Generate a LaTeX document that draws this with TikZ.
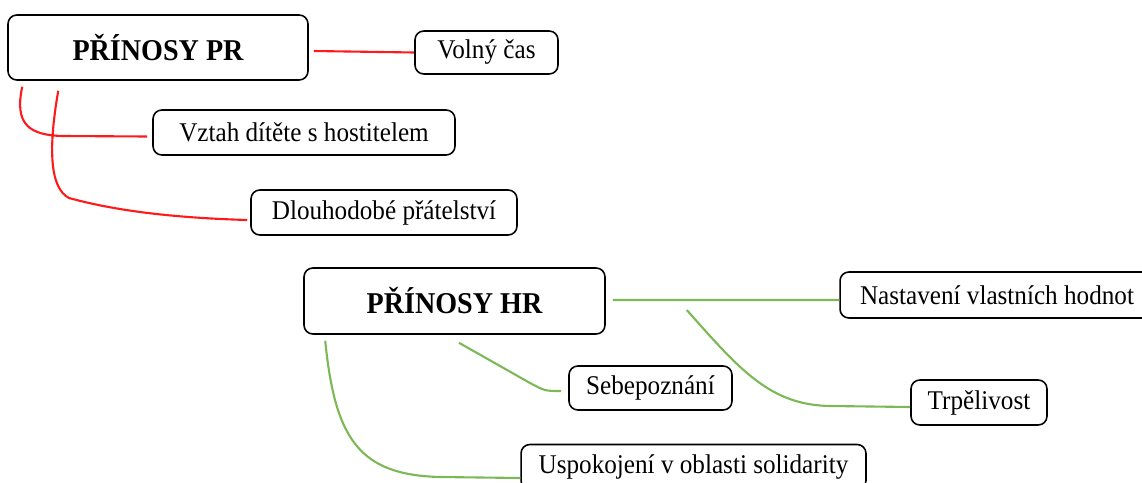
\documentclass[tikz,border=0pt]{standalone}
\usepackage{fontspec}
\setmainfont[FakeStretch = 0.93]{Liberation Serif}
\usetikzlibrary{calc}
\definecolor{prcolor}{RGB}{255,25,25}
\definecolor{hrcolor}{RGB}{125,184,86}
\tikzset{
	box/.style = {draw, line width = 0.9pt, rounded corners = 5pt, fill = white, minimum height = 0.9cm, inner sep = 0pt, font = \fontsize{15.4}{18}\selectfont},
	title/.style = {box, minimum height = 1.3cm, font = \fontsize{17.2}{20}\selectfont\bfseries},
	prline/.style = {draw = prcolor, line width = 1.2pt},
	hrline/.style = {draw = hrcolor, line width = 1.2pt}
}

\begin{document}
\begin{tikzpicture}[x = 0.02cm, y = -0.02cm]
	\useasboundingbox (0,0) rectangle (1142,483);
	\clip (0,0) rectangle (1142,483);
	\draw
	(158,47.5) node[title, minimum width = 6cm](PR){PŘÍNOSY PR}
	(486.5,52.5) node[box, minimum width = 2.86cm, minimum height = 0.86cm](volny){Volný čas}
	(304,132.5) node[box, minimum width = 6.04cm](vztah){Vztah dítěte s hostitelem}
	(384,212.5) node[box, minimum width = 5.32cm](pratelstvi){Dlouhodobé přátelství}
	(454.5,301) node[title, minimum width = 6.02cm, minimum height = 1.32cm](HR){PŘÍNOSY HR}
	(997,295) node[box, minimum width = 6.28cm, minimum height = 0.92cm](hodnoty){Nastavení vlastních hodnot}
	(650.5,388) node[box, minimum width = 3.26cm, minimum height = 0.88cm](sebepoznani){Sebepoznání}
	(979,402.5) node[box, minimum width = 2.72cm](trpelivost){Trpělivost}
	(693.5,467) node[box, minimum width = 6.9cm](solidarita){Uspokojení v oblasti solidarity}
	;
	\path[prline]
	($(PR.east)+(5,3.5)$) -- (volny.west)
	($(PR.south west)+(15,6)$) .. controls (14,125) and (30,135) .. (62,136) -- ($(vztah.west)+(-5,4)$)
	($(PR.south west)+(51,10)$) .. controls (48,150) and (50,188) .. (69,198) .. controls (120,212) and (180,218) .. ($(pratelstvi.west)+(-3,7.5)$)
	;
	\path[hrline]
	($(HR.east)+(7,-1)$) -- ($(hodnoty.west)+(0,5)$)
	($(HR.east)+(81,9)$) .. controls (740,370) and (770,405) .. (830,406) -- ($(trpelivost.west)+(0,4.5)$)
	($(HR.south)+(4.5,8)$) -- (530,383) .. controls (545,391) .. ($(sebepoznani.west)+(-7,3)$)
	($(HR.south west)+(22,6)$) .. controls (335,440) and (360,475) .. (440,477) -- ($(solidarita.west)+(0,11)$)
	;
\end{tikzpicture}
\end{document}
